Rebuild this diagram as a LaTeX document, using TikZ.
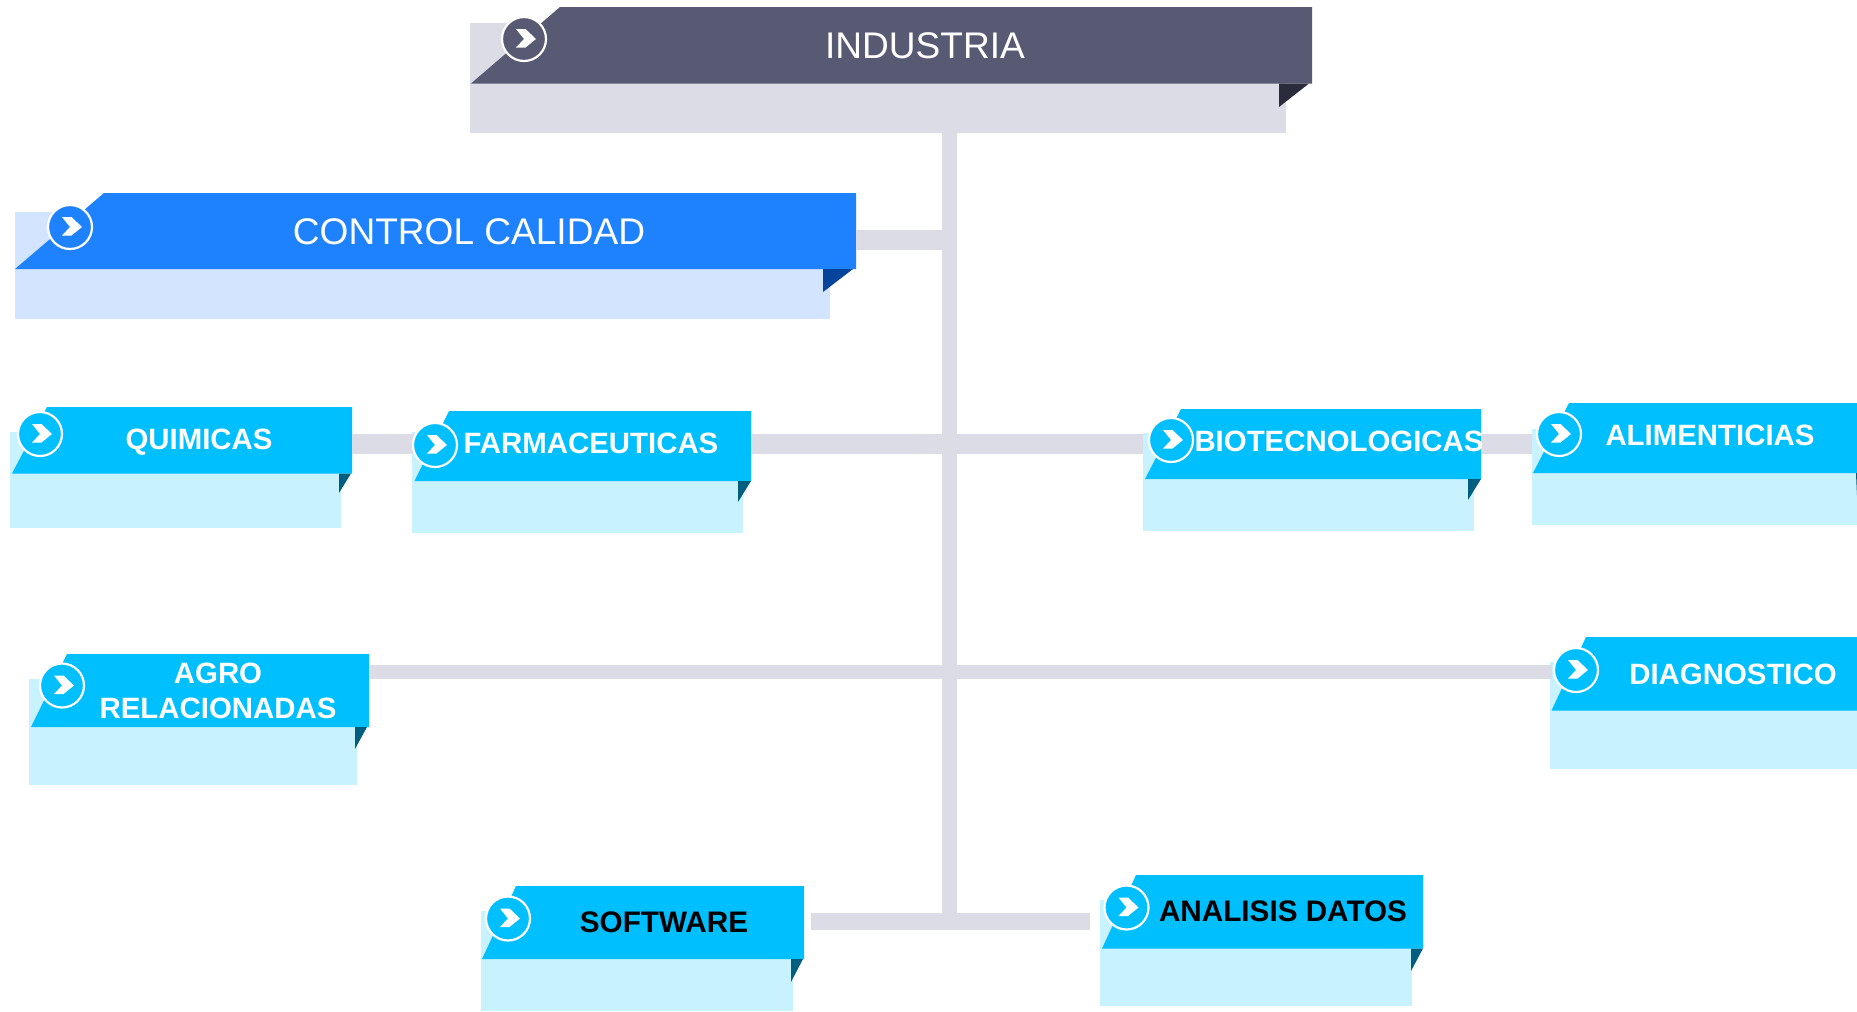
\documentclass[tikz,border=0pt]{standalone}
\usepackage{fontspec}
\setmainfont{Liberation Sans}
\usetikzlibrary{fit}
\definecolor{linkgrey}{HTML}{DCDCE6}
\definecolor{darkmain}{HTML}{585A74}
\definecolor{darkpale}{HTML}{DCDCE6}
\definecolor{darkfold}{HTML}{2A2B3B}
\definecolor{bluemain}{HTML}{1E82FF}
\definecolor{bluepale}{HTML}{D2E4FF}
\definecolor{bluefold}{HTML}{06439A}
\definecolor{cyanmain}{HTML}{00BFFF}
\definecolor{cyanpale}{HTML}{C9F2FF}
\definecolor{cyanfold}{HTML}{005F80}
\tikzset{
  link/.style={draw=linkgrey},
  boxfit/.style={inner sep=0pt,outer sep=0pt,rectangle},
  bigtext/.style={text=white,font=\fontsize{37.2}{37.2}\selectfont,inner sep=0pt,anchor=center},
  boldtext/.style={text=white,font=\fontsize{29.5}{35.1}\selectfont\bfseries,inner sep=0pt,anchor=center,align=center},
  blacktext/.style={boldtext,text=black,font=\fontsize{29.8}{35.1}\selectfont\bfseries},
}
% #1 scheme, #2 name, #3-#6 pale box x0,y0,x1,y1
\newcommand\palebox[6]{%
  \fill[#1pale] (#3,#4) rectangle (#5,#6);
  \node[boxfit,fit={(#3,#4)(#5,#6)}] (#2-p) {};}
% #1 scheme, #2 name, #3 left, #4 top-left x, #5 right, #6 top, #7 bottom
\newcommand\ribbon[7]{%
  \fill[#1main] (#3,#7) -- (#4,#6) -- (#5,#6) -- (#5,#7) -- cycle;
  \node[boxfit,fit={(#3,#6)(#5,#7)}] (#2) {};}
% #1 scheme, #2 fold x, #3 ribbon bottom, #4 tip y, #5 fold right x
\newcommand\fold[5]{%
  \fill[#1fold] (#2,#3) -- (#5,#3) -- (#2,#4) -- cycle;}
% #1 scheme, #2 cx, #3 cy
\newcommand\badge[3]{%
  \filldraw[fill=#1main,draw=white,line width=2.2bp] (#2,#3) circle[radius=22];
  \fill[white] (#2,#3) ++(-8,-10) -- ++(9.5,0) -- ++(10.5,10) -- ++(-10.5,8.5) -- ++(-9.5,0) -- ++(8,-8.5) -- cycle;}
\begin{document}
\begin{tikzpicture}[x=1bp,y=-1bp]
\useasboundingbox (0,0) rectangle (1857,1011);
\fill[white] (0,0) rectangle (1857,1011);
% --- pale panels and ribbons
\palebox{dark}{ind}{470}{23}{1286}{132.5}
\ribbon{dark}{ind}{471}{560}{1312}{7}{83.5}
\fold{dark}{1279}{83.5}{107}{1309}
\badge{dark}{524}{39}
\palebox{blue}{ctl}{15}{212}{830}{318.5}
\ribbon{blue}{ctl}{15}{104}{856}{193}{269}
\fold{blue}{823}{269}{292}{853}
\badge{blue}{70}{227}
\palebox{cyan}{qui}{10}{432}{341}{528}
\palebox{cyan}{far}{412}{432}{743}{533}
\palebox{cyan}{bio}{1143}{433}{1474}{531}
\palebox{cyan}{ali}{1532}{429}{1857}{525}
\palebox{cyan}{agr}{29}{679}{357}{785}
\palebox{cyan}{dia}{1550}{662}{1857}{769}
\palebox{cyan}{sof}{481}{911}{793}{1011}
\palebox{cyan}{ana}{1100}{900}{1412}{1006}
% --- connectors
\coordinate (spinebot) at (949.5,913);
\coordinate (rowa) at (949.5,444);
\coordinate (rowb) at (949.5,672);
\coordinate (rowc) at (949.5,240);
\coordinate (botl) at (811,921);
\coordinate (botr) at (1090,921);
\ribbon{cyan}{qui}{12}{47}{352}{407}{473.5}
\ribbon{cyan}{far}{414.5}{449}{751}{411}{481}
\ribbon{cyan}{bio}{1145}{1181}{1481}{409}{479}
\ribbon{cyan}{ali}{1533}{1569}{1857}{403}{473}
\ribbon{cyan}{agr}{31}{67}{369}{654}{727}
\ribbon{cyan}{dia}{1551.5}{1586}{1857}{637}{710.5}
\ribbon{cyan}{sof}{482}{516}{804}{886}{959}
\ribbon{cyan}{ana}{1102}{1136}{1423}{875}{948.5}
\draw[link,line width=15bp] (ind-p.south -| spinebot) -- (spinebot);
\draw[link,line width=20bp] (ctl.east |- rowc) -- (rowc);
\draw[link,line width=20bp] (qui.east |- rowa) -- (far.west |- rowa);
\draw[link,line width=20bp] (far.east |- rowa) -- (bio-p.west |- rowa);
\draw[link,line width=20bp] (bio.east |- rowa) -- (ali-p.west |- rowa);
\draw[link,line width=14bp] (agr.east |- rowb) -- (dia.west |- rowb);
\draw[link,line width=17bp] (botl) -- (botr);
% --- ribbons' folds and badges above connectors
\fold{cyan}{339}{473.5}{493}{351}
\badge{cyan}{40}{434}
\fold{cyan}{738}{481}{502}{751}
\badge{cyan}{435}{445}
\fold{cyan}{1468}{479}{500}{1481}
\badge{cyan}{1171}{440}
\fold{cyan}{1856}{473}{495}{1857}
\badge{cyan}{1559}{434}
\fold{cyan}{355}{727}{749}{367}
\badge{cyan}{62}{685.5}
\badge{cyan}{1576}{670}
\fold{cyan}{791}{959}{982}{803}
\badge{cyan}{508}{918.5}
\fold{cyan}{1411}{948.5}{971}{1423}
\badge{cyan}{1126.5}{907.5}
% --- texts
\node[bigtext] (ind-t) at (925,46) {INDUSTRIA};
\node[bigtext] (ctl-t) at (469,232) {CONTROL CALIDAD};
\node[boldtext] (qui-t) at (199,442) {QUIMICAS};
\node[boldtext] (far-t) at (591,443) {FARMACEUTICAS};
\node[boldtext] (bio-t) at (1339,441) {BIOTECNOLOGICAS};
\node[boldtext] (ali-t) at (1710,435) {ALIMENTICIAS};
\node[boldtext] (agr-t) at (218,690.5) {AGRO\\RELACIONADAS};
\node[boldtext] (dia-t) at (1733,674) {DIAGNOSTICO};
\node[blacktext] (sof-t) at (664,922.5) {SOFTWARE};
\node[blacktext] (ana-t) at (1283,911.5) {ANALISIS DATOS};
\end{tikzpicture}
\end{document}
